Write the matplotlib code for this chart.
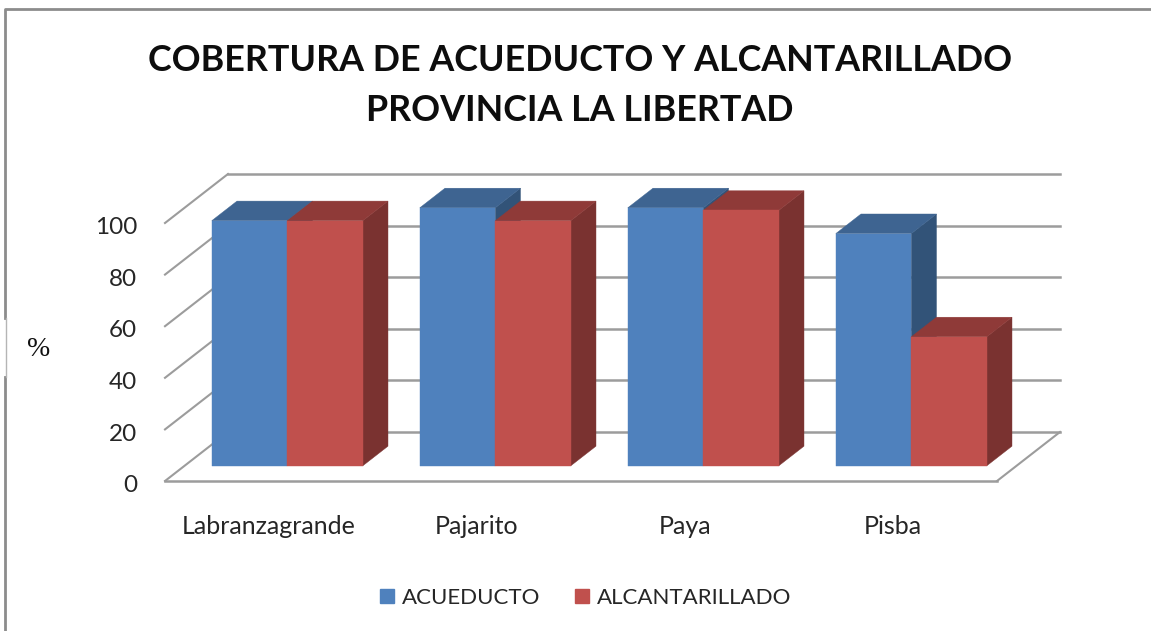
#!/usr/bin/env python3
import matplotlib
matplotlib.use("Agg")
import matplotlib.pyplot as plt
from matplotlib.lines import Line2D
from matplotlib.patches import Patch, Polygon
from matplotlib.transforms import ScaledTranslation

categories = ["Labranzagrande", "Pajarito", "Paya", "Pisba"]
acueducto = [95, 100, 100, 90]
alcantarillado = [95, 95, 99, 50]
y_ticks = [0, 20, 40, 60, 80, 100]

title = "COBERTURA DE ACUEDUCTO Y ALCANTARILLADO\nPROVINCIA LA LIBERTAD"

W, H = 1151, 631
DX, DY = 63 / 208, 19          # how far the back wall is shifted
BAR_W = 0.363
GAP = 0.131
D0, D1 = 0.31, 0.71            # bar depth, front and back
GRID = "#9c9c9c"
BLUE = ("#4f81bd", "#3e6491", "#325378")   # front, top, side
RED = ("#c0504d", "#8f3a38", "#7a3230")


def shift(x, v, d):
    return (x + d * DX, v + d * DY)


def bar3d(ax, x0, value, colors):
    x1 = x0 + BAR_W
    front = [shift(x0, 0, D0), shift(x1, 0, D0), shift(x1, value, D0), shift(x0, value, D0)]
    top = [shift(x0, value, D0), shift(x1, value, D0), shift(x1, value, D1), shift(x0, value, D1)]
    side = [shift(x1, 0, D0), shift(x1, 0, D1), shift(x1, value, D1), shift(x1, value, D0)]
    for pts, c in zip((side, top, front), (colors[2], colors[1], colors[0])):
        ax.add_patch(Polygon(pts, closed=True, fc=c, ec=c, lw=0.3, clip_on=False, zorder=3))


plt.rcParams["font.family"] = ["Lato", "DejaVu Sans"]
fig = plt.figure(figsize=(W / 100, H / 100), dpi=100)

# axes = front plane of the 3D box
ax = fig.add_axes([165 / W, (H - 481) / H, 832 / W, 258 / H])
ax.set_xlim(0, len(categories))
ax.set_ylim(0, 100)
ax.patch.set_visible(False)
for s in ax.spines.values():
    s.set_visible(False)

ax.set_yticks(y_ticks)
ax.set_xticks([i + 0.5 for i in range(len(categories))])
ax.set_xticklabels(categories)
ax.tick_params(axis="y", length=0, pad=20, labelsize=17.5, labelcolor="#262626")
ax.tick_params(axis="x", length=0, pad=24.5, labelsize=18, labelcolor="#262626")

# tick labels sit a little lower in the original
for lab in ax.get_yticklabels():
    lab.set_transform(lab.get_transform() + ScaledTranslation(0, -2 / 72, fig.dpi_scale_trans))

# walls
for v in y_ticks:
    ax.plot(*zip(shift(0, v, 0), shift(0, v, 1)), color=GRID, lw=1.5, clip_on=False, zorder=1)
    ax.plot(*zip(shift(0, v, 1), shift(len(categories), v, 1)), color=GRID, lw=1.8, clip_on=False, zorder=1)
ax.plot(*zip(shift(0, 0, 0), shift(len(categories), 0, 0)), color=GRID, lw=1.8, clip_on=False, zorder=1)
ax.plot(*zip(shift(len(categories), 0, 0), shift(len(categories), 0, 1)), color=GRID, lw=1.5, clip_on=False, zorder=1)

for i in range(len(categories)):
    bar3d(ax, i + GAP, acueducto[i], BLUE)
    bar3d(ax, i + GAP + BAR_W, alcantarillado[i], RED)

fig.text(580 / W, 1 - 85.5 / H, title, ha="center", va="center", fontsize=25.8, fontweight="bold",
         color="#0d0d0d", linespacing=1.62)
fig.text(38.5 / W, 1 - 349 / H, "%", ha="center", va="center", fontsize=20, family="Liberation Serif", color="#111111")

handles = [Patch(fc=BLUE[0], ec=BLUE[0], label="ACUEDUCTO"), Patch(fc=RED[0], ec=RED[0], label="ALCANTARILLADO")]
fig.legend(handles=handles, loc="center", bbox_to_anchor=(585.5 / W, 1 - 598 / H), ncol=2, frameon=False,
           fontsize=16, handlelength=0.63, handleheight=0.63, handletextpad=0.36, columnspacing=1.53,
           labelcolor="#262626")

# frame of the pasted chart, thinner beside the % box
FRAME = "#8c8c8c"
fig.add_artist(Line2D([5 / W, 5 / W], [1 - 377 / H, 0], transform=fig.transFigure, color=FRAME, lw=2))
fig.add_artist(Line2D([5 / W, 5 / W, 1], [1 - 318 / H, 1 - 9 / H, 1 - 9 / H], transform=fig.transFigure, color=FRAME, lw=2))
fig.add_artist(Line2D([5.5 / W, 5.5 / W], [1 - 318 / H, 1 - 377 / H], transform=fig.transFigure, color="#b5b5b5", lw=1))

fig.savefig("out.png", dpi=100)
